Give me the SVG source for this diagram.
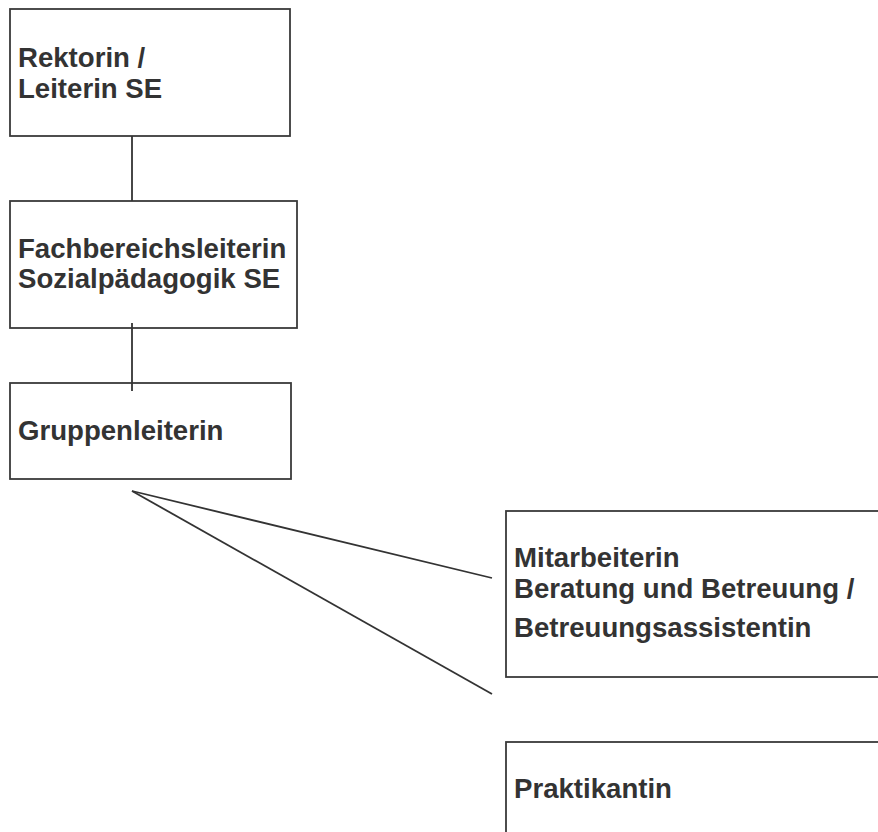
<svg xmlns="http://www.w3.org/2000/svg" width="878" height="832" viewBox="0 0 878 832">
<style>
.box{fill:#fff;stroke:#3a3a3a;stroke-width:1.8}
.lbl{font-family:"Liberation Sans",Arial,sans-serif;font-weight:bold;font-size:27.6px;fill:#333}
.con{stroke:#333;stroke-width:1.8;fill:none}
</style>
<rect width="878" height="832" fill="#fff"/>
<g id="node-rektorin">
<rect class="box" x="10" y="9" width="280" height="127"/>
<text class="lbl" x="18" y="67">Rektorin /</text>
<text class="lbl" x="18" y="98">Leiterin SE</text>
</g>
<g id="node-fachbereich">
<rect class="box" x="10" y="201" width="287" height="127"/>
<text class="lbl" x="18" y="258">Fachbereichsleiterin</text>
<text class="lbl" x="18" y="288">Sozialpädagogik SE</text>
</g>
<g id="node-gruppenleiterin">
<rect class="box" x="10" y="383" width="281" height="96"/>
<text class="lbl" x="18" y="440">Gruppenleiterin</text>
</g>
<g id="node-mitarbeiterin">
<rect class="box" x="506" y="511" width="400" height="166"/>
<text class="lbl" x="514" y="567">Mitarbeiterin</text>
<text class="lbl" x="514" y="598">Beratung und Betreuung /</text>
<text class="lbl" x="514" y="637">Betreuungsassistentin</text>
</g>
<g id="node-praktikantin">
<rect class="box" x="506" y="742" width="400" height="120"/>
<text class="lbl" x="514" y="798">Praktikantin</text>
</g>
<g id="connectors">
<line class="con" x1="132" y1="136" x2="132" y2="201"/>
<line class="con" x1="132" y1="323" x2="132" y2="391"/>
<line class="con" x1="132" y1="491" x2="492" y2="578"/>
<line class="con" x1="132" y1="491" x2="492" y2="694"/>
</g>
</svg>
